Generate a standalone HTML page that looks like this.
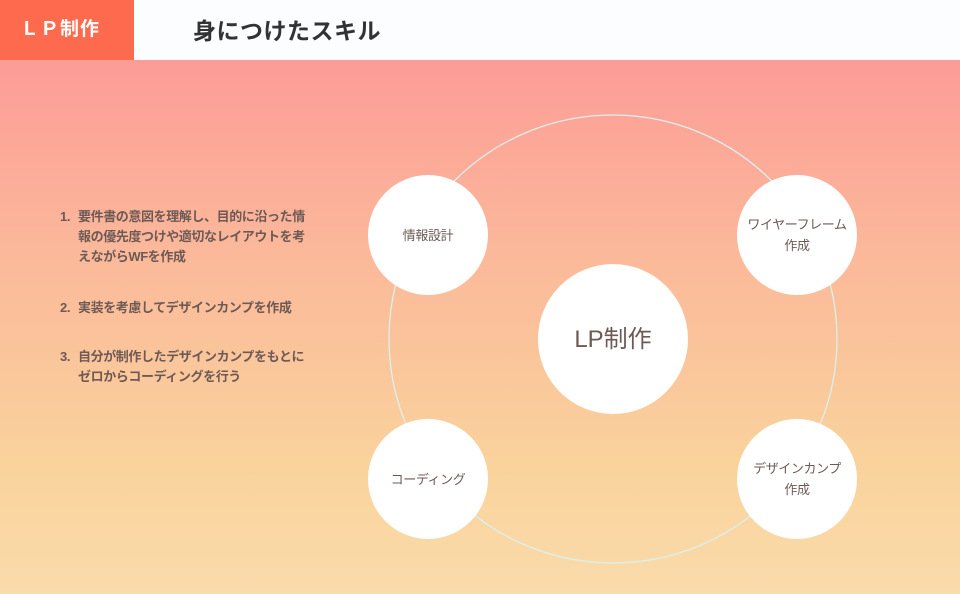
<!DOCTYPE html>
<html><head><meta charset="utf-8"><style>
*{margin:0;padding:0;box-sizing:border-box}
body{width:960px;height:594px;overflow:hidden;position:relative;font-family:"Liberation Sans","Noto Sans CJK JP",sans-serif;background:linear-gradient(#fc9c97 60px,#fbb89a 250px,#fad39c 470px,#fadbab 594px)}
.top{position:absolute;left:0;top:0;width:960px;height:60px;background:#fbfdfe}
.tab{position:absolute;left:0;top:0;width:134px;height:60px;background:#fe6a4e;color:#fff;font-weight:bold;font-size:19px;line-height:60px;padding-left:20px;letter-spacing:1px}
.title{position:absolute;left:193px;top:0;line-height:62px;font-size:23px;font-weight:bold;color:#333;letter-spacing:0.5px}
.list{position:absolute;left:60px;color:#6e5a55;font-size:13px;font-weight:bold;line-height:20px;letter-spacing:-0.4px;white-space:nowrap}
.list span{display:inline-block;width:18px;vertical-align:top}
.list div{display:inline-block}
.c{position:absolute;border-radius:50%;background:#fff;display:flex;align-items:center;justify-content:center;text-align:center;color:#6e5a55;font-size:13px;line-height:21px;letter-spacing:-0.4px}
</style></head><body>
<div class="top"></div><div class="tab">ＬＰ制作</div><div class="title">身につけたスキル</div>
<div class="list" style="top:207px"><span>1.</span><div>要件書の意図を理解し、目的に沿った情<br>報の優先度つけや適切なレイアウトを考<br>えながらWFを作成</div></div>
<div class="list" style="top:298px"><span>2.</span><div>実装を考慮してデザインカンプを作成</div></div>
<div class="list" style="top:347px"><span>3.</span><div>自分が制作したデザインカンプをもとに<br>ゼロからコーディングを行う</div></div>
<svg style="position:absolute;left:0;top:0" width="960" height="594"><circle cx="613" cy="339" r="224" fill="none" stroke="#d9f1ee" stroke-width="1.3"/></svg>
<div class="c" style="left:538px;top:264px;width:150px;height:150px;font-size:24px;letter-spacing:0">LP制作</div>
<div class="c" style="left:368px;top:175px;width:120px;height:120px">情報設計</div>
<div class="c" style="left:737px;top:175px;width:120px;height:120px">ワイヤーフレーム<br>作成</div>
<div class="c" style="left:368px;top:419px;width:120px;height:120px">コーディング</div>
<div class="c" style="left:737px;top:419px;width:120px;height:120px">デザインカンプ<br>作成</div>
</body></html>
